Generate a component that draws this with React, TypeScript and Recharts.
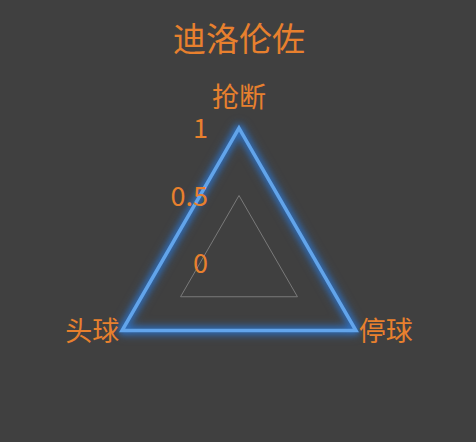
import { RadarChart, Radar, PolarGrid, PolarAngleAxis, PolarRadiusAxis } from "recharts";

const skills = ["抢断", "停球", "头球"];
const values = [1, 1, 1];
const radiusTicks = [0, 0.5, 1];
const title = "迪洛伦佐";

const BG = "#404040";
const ORANGE = "#e8802e";
const FONT = '"Noto Sans CJK SC", "Noto Sans", sans-serif';

const chartData = skills.map((s, i) => ({ skill: s, value: values[i] }));

function AngleTick(props: any) {
  const { x, y, payload, cx } = props;
  let dx = 0;
  let dy = 0;
  let anchor: "middle" | "start" | "end" = "middle";
  if (Math.abs(x - cx) < 1) {
    dy = -13;
  } else if (x < cx) {
    anchor = "end";
    dx = 4;
    dy = 6;
  } else {
    anchor = "start";
    dx = -4;
    dy = 6;
  }
  return (
    <text
      x={x + dx}
      y={y + dy}
      textAnchor={anchor}
      fill={ORANGE}
      fontSize={27}
      fontFamily={FONT}
    >
      {payload.value}
    </text>
  );
}

function RadiusTick(props: any) {
  const { x, y, payload } = props;
  return (
    <text
      x={x - 31}
      y={y + 10}
      textAnchor="end"
      fill={ORANGE}
      fontSize={27}
      fontFamily={FONT}
    >
      {payload.value}
    </text>
  );
}

export default function App() {
  return (
    <div
      style={{
        position: "absolute",
        left: 0,
        top: 0,
        width: 476,
        height: 442,
        background: BG,
        overflow: "hidden",
      }}
    >
      <div
        style={{
          position: "absolute",
          left: 0,
          top: 13,
          width: 478,
          textAlign: "center",
          color: ORANGE,
          fontSize: 33,
          fontFamily: FONT,
          lineHeight: "48px",
        }}
      >
        {title}
      </div>
      <RadarChart
        width={476}
        height={442}
        data={chartData}
        cx={239}
        cy={263}
        outerRadius={135}
        startAngle={90}
        endAngle={-270}
        style={{ position: "absolute", left: 0, top: 0 }}
      >
        <PolarGrid gridType="polygon" radialLines={false} stroke="#7a7a7a" strokeWidth={1} />
        <PolarAngleAxis
          dataKey="skill"
          tick={(p: any) => <AngleTick {...p} cx={239} />}
          axisLine={false}
          tickLine={false}
        />
        <PolarRadiusAxis
          angle={90}
          domain={[0, 1]}
          ticks={radiusTicks as any}
          tick={RadiusTick}
          axisLine={false}
          tickLine={false}
        />
        <Radar
          dataKey="value"
          stroke="#62a4ea"
          strokeWidth={3.5}
          fill="none"
          fillOpacity={0}
          dot={{ r: 2.5, fill: "#b0d6f8", stroke: "none" }}
          style={{
            filter:
              "drop-shadow(0 0 3px #2c74cc) drop-shadow(0 0 4px #2c74cc)",
          }}
          isAnimationActive={false}
        />
      </RadarChart>
    </div>
  );
}
